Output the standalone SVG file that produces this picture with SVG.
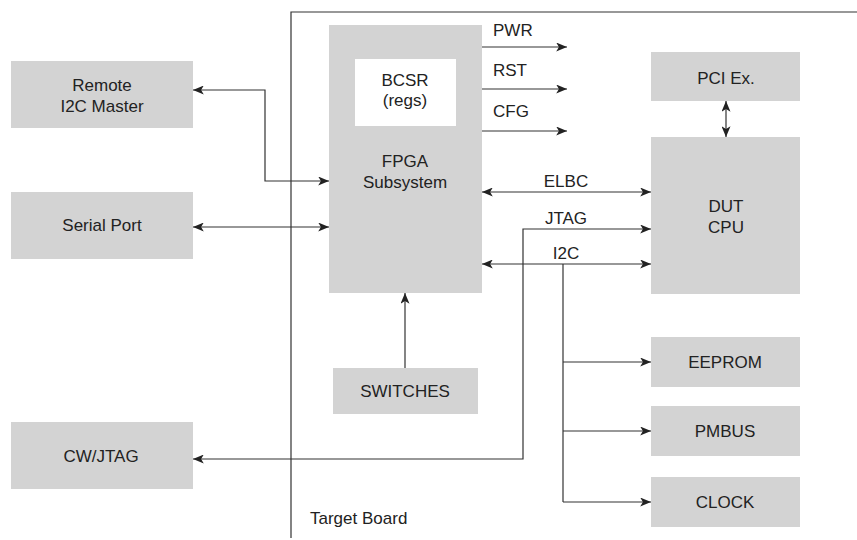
<svg xmlns="http://www.w3.org/2000/svg" width="857" height="540" viewBox="0 0 857 540">
<style>
.box{fill:#d3d3d3}
.wbox{fill:#ffffff}
text{font-family:"Liberation Sans",Arial,Helvetica,sans-serif;font-size:17px;fill:#222}
.c{text-anchor:middle}
.ln{fill:none;stroke:#333;stroke-width:1.2}
.arr{marker-end:url(#ah)}
.bi{marker-start:url(#ah);marker-end:url(#ah)}
</style>
<defs>
<marker id="ah" viewBox="0 0 12 10" refX="12" refY="5" markerWidth="12" markerHeight="9" markerUnits="userSpaceOnUse" orient="auto-start-reverse">
<path d="M0,0 L12,5 L0,10 L3,5 z" fill="#222"/>
</marker>
</defs>
<g id="board">
<path class="ln" d="M291,538 V12 H857"/>
<text x="310" y="524">Target Board</text>
</g>
<g id="remote"><rect class="box" x="11" y="61" width="182" height="67"/><text class="c" x="102" y="91">Remote</text><text class="c" x="102" y="112">I2C Master</text></g>
<g id="serial"><rect class="box" x="11" y="192" width="182" height="67"/><text class="c" x="102" y="231">Serial Port</text></g>
<g id="cwjtag"><rect class="box" x="11" y="422" width="182" height="67"/><text class="c" x="101" y="462">CW/JTAG</text></g>
<g id="fpga"><rect class="box" x="329" y="25" width="153" height="268"/><text class="c" x="405" y="167">FPGA</text><text class="c" x="405" y="188">Subsystem</text></g>
<g id="bcsr"><rect class="wbox" x="355" y="59" width="101" height="67"/><text class="c" x="405" y="86">BCSR</text><text class="c" x="405" y="106">(regs)</text></g>
<g id="switches"><rect class="box" x="333" y="368" width="145" height="46"/><text class="c" x="405" y="397">SWITCHES</text></g>
<g id="pci"><rect class="box" x="651" y="52" width="149" height="49"/><text class="c" x="726" y="84">PCI Ex.</text></g>
<g id="dut"><rect class="box" x="651" y="137" width="149" height="157"/><text class="c" x="726" y="212">DUT</text><text class="c" x="726" y="233">CPU</text></g>
<g id="eeprom"><rect class="box" x="651" y="337" width="149" height="50"/><text class="c" x="725" y="368">EEPROM</text></g>
<g id="pmbus"><rect class="box" x="651" y="406" width="149" height="50"/><text class="c" x="725" y="437">PMBUS</text></g>
<g id="clock"><rect class="box" x="651" y="477" width="149" height="50"/><text class="c" x="725" y="508">CLOCK</text></g>
<g id="connectors">
<path class="ln bi" d="M193,90 H265 V181 H329"/>
<path class="ln bi" d="M193,227 H329"/>
<path class="ln arr" d="M482,47 H567"/>
<path class="ln arr" d="M482,89 H567"/>
<path class="ln arr" d="M482,131 H567"/>
<path class="ln bi" d="M482,192 H651"/>
<path class="ln bi" d="M193,459 H523 V229 H651"/>
<path class="ln bi" d="M482,264 H651"/>
<path class="ln" d="M563,264 V502"/>
<path class="ln arr" d="M563,362 H651"/>
<path class="ln arr" d="M563,431 H651"/>
<path class="ln arr" d="M563,502 H651"/>
<path class="ln arr" d="M405,368 V293"/>
<path class="ln bi" d="M726,101 V137"/>
<text x="493" y="36">PWR</text>
<text x="493" y="76">RST</text>
<text x="493" y="117">CFG</text>
<text class="c" x="566" y="187">ELBC</text>
<text class="c" x="566" y="224">JTAG</text>
<text class="c" x="566" y="259">I2C</text>
</g>
</svg>
